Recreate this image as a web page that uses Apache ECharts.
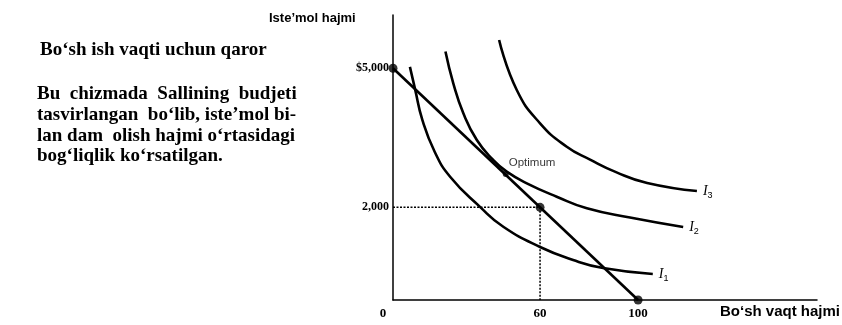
<!DOCTYPE html>
<html>
<head>
<meta charset="utf-8">
<script src="https://cdn.jsdelivr.net/npm/echarts@6/dist/echarts.min.js"></script>
<style>
  html, body { margin: 0; padding: 0; background: #fff; }
  #chart { width: 842px; height: 325px; }
</style>
</head>
<body>
<div id="chart"></div>
<script>
// egri chiziqlar: [bo'sh vaqt, iste'mol]
const curveI1 = [[6.9, 5030], [9, 4550], [12, 3880], [17, 3200], [23.3, 2660], [35.5, 2010], [45, 1580], [60, 1144], [73.5, 863], [85.7, 690], [106, 560]];
const curveI2 = [[21.4, 5360], [24.6, 4676], [28.7, 4029], [34.2, 3453], [40.9, 3021], [46.4, 2769], [54.6, 2518], [66.8, 2229], [79.1, 1979], [96.7, 1780], [118.4, 1575]];
const curveI3 = [[43.3, 5611], [50.5, 4532], [60, 3813], [70.9, 3308], [80.4, 3030], [91, 2760], [103.7, 2525], [124, 2352]];
const budgetLine = [[0, 5000], [100, 0]];
const guideH = [[0, 2000], [60, 2000]];
const guideV = [[60, 2000], [60, 0]];
const dots = [[0, 5000], [60, 2000], [100, 0]];
const optimumPoint = [[46, 2720]];
const xTicks = [0, 60, 100];
const yTicks = [2000, 5000];
const yTickLabels = { 2000: '2,000', 5000: '$5,000' };
const curveNames = ['1', '2', '3'];

const chart = echarts.init(document.getElementById('chart'), null, { renderer: 'canvas' });

const curveSeries = (data, idx) => ({
    type: 'line',
    data: data,
    smooth: 0.5,
    symbol: 'none',
    lineStyle: { color: '#000', width: 2.6 },
    endLabel: {
        show: true,
        distance: 6,
        formatter: () => '{i|I}{s|' + curveNames[idx] + '}',
        rich: {
            i: { fontFamily: 'Liberation Serif', fontStyle: 'italic', fontSize: 14, color: '#000' },
            s: { fontFamily: 'Liberation Sans', fontSize: 9, color: '#000', padding: [9, 0, 0, 0] }
        }
    },
    z: 3
});

const option = {
    animation: false,
    backgroundColor: '#fff',
    grid: { left: 393, right: 25, top: 15, bottom: 25 },
    xAxis: {
        type: 'value', min: 0, max: 173,
        splitLine: { show: false },
        axisLine: { lineStyle: { color: '#000', width: 1.5 } },
        axisTick: { show: false },
        axisLabel: {
            customValues: xTicks,
            formatter: v => (v === 0 ? '{z|0}' : String(v)),
            rich: { z: { padding: [0, 20, 0, 0], fontFamily: 'Liberation Serif', fontWeight: 'bold', fontSize: 13, color: '#000' } },
            color: '#000', fontFamily: 'Liberation Serif', fontWeight: 'bold', fontSize: 13, margin: 7
        }
    },
    yAxis: {
        type: 'value', min: 0, max: 6150,
        splitLine: { show: false },
        axisLine: { show: true, lineStyle: { color: '#000', width: 1.5 } },
        axisTick: { show: false },
        axisLabel: {
            customValues: yTicks,
            formatter: v => yTickLabels[v] || '',
            color: '#000', fontFamily: 'Liberation Serif', fontWeight: 'bold', fontSize: 12, margin: 4
        }
    },
    series: [
        curveSeries(curveI1, 0),
        curveSeries(curveI2, 1),
        curveSeries(curveI3, 2),
        {
            type: 'line', data: budgetLine, symbol: 'none',
            lineStyle: { color: '#000', width: 2.6 }, z: 3
        },
        {
            type: 'line', data: guideH, symbol: 'none',
            lineStyle: { color: '#000', width: 1.5, type: [2, 1.5] }, z: 2
        },
        {
            type: 'line', data: guideV, symbol: 'none',
            lineStyle: { color: '#000', width: 1.5, type: [2, 1.5] }, z: 2
        },
        {
            type: 'scatter', data: dots, symbolSize: 9,
            itemStyle: { color: '#000' }, z: 4
        },
        {
            type: 'scatter', data: optimumPoint, symbolSize: 6,
            itemStyle: { color: '#000' }, z: 4,
            label: {
                show: true, position: 'right', distance: 0, offset: [0, -11],
                formatter: 'Optimum',
                fontFamily: 'Liberation Sans', fontSize: 11.5, color: '#000'
            }
        }
    ],
    graphic: [
        {
            type: 'text', left: 269, top: 12,
            style: { text: 'Iste’mol hajmi', font: 'bold 13px "Liberation Sans"', fill: '#000' }
        },
        {
            type: 'text', right: 2, top: 304,
            style: { text: 'Bo‘sh vaqt hajmi', font: 'bold 15px "Liberation Sans"', fill: '#000' }
        },
        {
            type: 'text', left: 40, top: 41,
            style: { text: 'Bo‘sh ish vaqti uchun qaror', font: 'bold 19px "Liberation Serif"', fill: '#000' }
        },
        {
            type: 'text', left: 37, top: 84,
            style: {
                text: 'Bu  chizmada  Sallining  budjeti\ntasvirlangan  bo‘lib, iste’mol bi-\nlan dam  olish hajmi o‘rtasidagi\nbog‘liqlik ko‘rsatilgan.',
                font: 'bold 19px "Liberation Serif"', fill: '#000', lineHeight: 20.7
            }
        }
    ]
};

chart.setOption(option);
</script>
</body>
</html>
